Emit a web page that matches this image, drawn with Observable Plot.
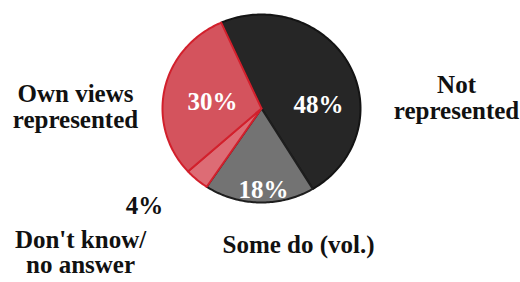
<!DOCTYPE html>
<html><head><meta charset="utf-8">
<script src="https://cdn.jsdelivr.net/npm/d3@7"></script>
<script src="https://cdn.jsdelivr.net/npm/@observablehq/plot@0.6"></script>
<style>html,body{margin:0;padding:0;background:#fff}
#chart{position:relative;z-index:1}
#fontwarm{font:bold 25px "Liberation Serif";position:absolute;left:0;top:0;color:#fff;z-index:0}</style>
</head><body><div id="fontwarm">&nbsp;</div><div id="chart"></div>
<script>
// Data
const categories = ["Not\nrepresented", "Some do (vol.)", "Don't know/\nno answer", "Own views\nrepresented"];
const values = [48, 18, 4, 30];
const pctLabels = ["48%", "18%", "4%", "30%"];

// Style / layout
const fills = ["#262626", "#737373", "#dd6c75", "#d4535d"];
const strokes = ["#141414", "#1e1e1e", "#d2202c", "#d2202c"];
const pctColors = ["#fff", "#fff", "#111", "#fff"];
// label anchors in normalized pie units (x right, y up; radius = 1)
const pctPos = [[0.576, 0.032], [0.02, -0.862], [-1.182, -1.032], [-0.495, 0.064]];
const catPos = [[1.97, 0.117], [0.374, -1.447], [-1.828, -1.537], [-1.879, 0.021]];
const catLineHeight = [1.04, 1.04, 1.0, 1.04];

const deg = Math.PI / 180;
const arcs = d3.pie().sort(null).startAngle(-24 * deg).endAngle(336 * deg)(values);

const slices = arcs.map((a, i) => {
  const n = Math.max(4, Math.ceil((a.endAngle - a.startAngle) / (1 * deg)));
  const pts = [{x: 0, y: 0}];
  for (let k = 0; k <= n; k++) {
    const t = a.startAngle + (a.endAngle - a.startAngle) * k / n;
    pts.push({x: Math.sin(t), y: Math.cos(t)});
  }
  return pts;
});

const font = "Liberation Serif";
function render() {
  const marks = [];
  slices.forEach((pts, i) => {
    marks.push(Plot.line(pts, {x: "x", y: "y", curve: "linear-closed", fill: fills[i], stroke: strokes[i], strokeWidth: 2}));
  });
  const pctData = values.map((v, i) => ({t: pctLabels[i], x: pctPos[i][0], y: pctPos[i][1], c: pctColors[i]}));
  marks.push(Plot.text(pctData, {x: "x", y: "y", text: "t", fill: "c", fontSize: 25, fontWeight: "bold", fontFamily: font}));
  categories.forEach((c, i) => {
    marks.push(Plot.text([{t: c, x: catPos[i][0], y: catPos[i][1]}], {x: "x", y: "y", text: "t", fill: "#111", fontSize: 25, fontWeight: "bold", fontFamily: font, lineHeight: catLineHeight[i]}));
  });
  const chart = Plot.plot({
    width: 520,
    height: 282,
    margin: 0,
    x: {domain: [-1, 1], range: [162, 360], axis: null},
    y: {domain: [-1, 1], range: [202, 14], axis: null},
    marks
  });
  const host = document.getElementById("chart");
  host.replaceChildren(chart);
}
render();
if (document.fonts && document.fonts.load) {
  document.fonts.load('bold 25px "Liberation Serif"').then(render).catch(() => {});
}
</script>
</body></html>
